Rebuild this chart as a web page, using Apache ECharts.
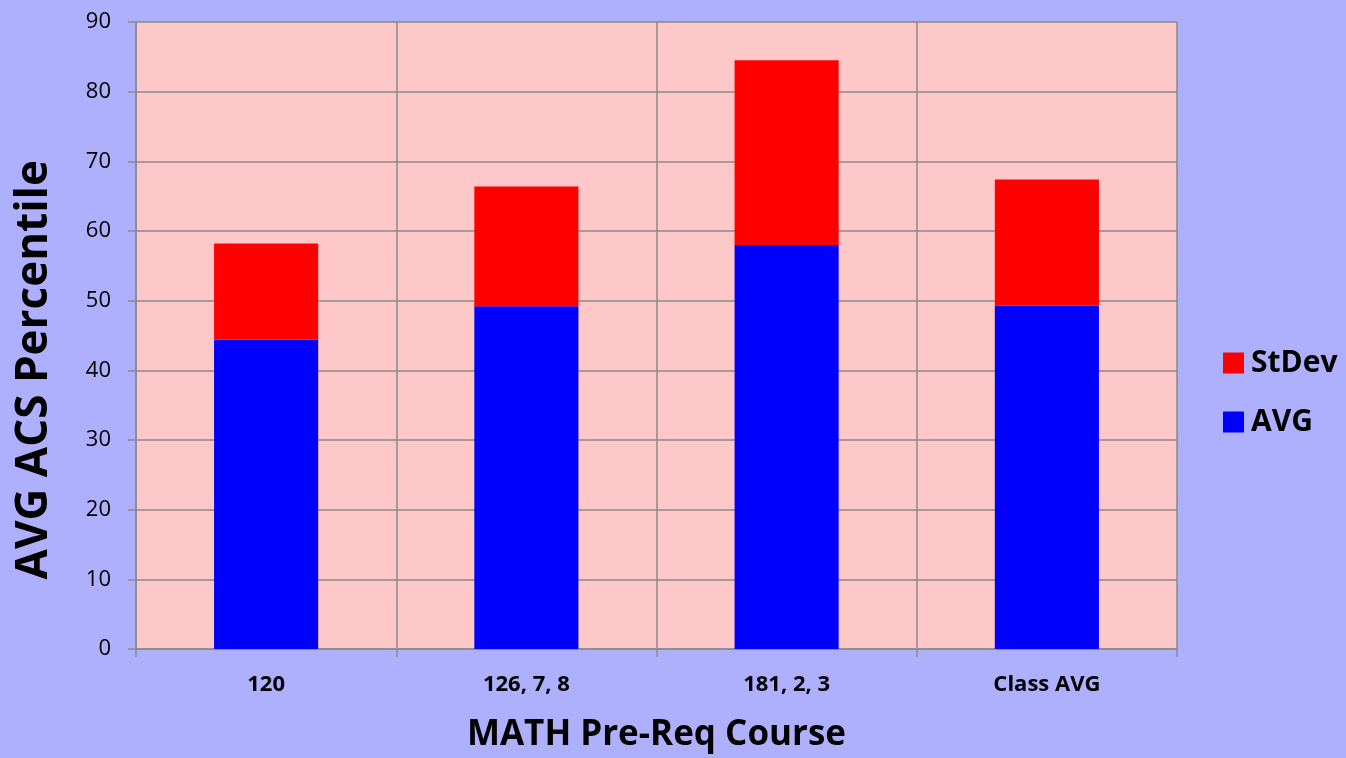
<!DOCTYPE html>
<html>
<head>
<meta charset="utf-8">
<script src="https://cdn.jsdelivr.net/npm/echarts@6/dist/echarts.min.js"></script>
<style>
html,body{margin:0;padding:0;background:#aeb0fe;}
#c{width:1346px;height:758px;}
</style>
</head>
<body>
<div id="c"></div>
<script>
var categories = ['120', '126, 7, 8', '181, 2, 3', 'Class AVG'];
var avgValues = [44.4, 49.2, 58.0, 49.3];
var stdevValues = [13.8, 17.2, 26.5, 18.1];
var yTicks = [0, 10, 20, 30, 40, 50, 60, 70, 80, 90];

var chart = echarts.init(document.getElementById('c'));
var gridColor = '#8a8a8a';
chart.setOption({
  backgroundColor: '#aeb0fe',
  animation: false,
  grid: {
    left: 136, right: 169, top: 22, bottom: 108,
    show: true, backgroundColor: '#ffc8c8', borderWidth: 0
  },
  legend: {
    orient: 'vertical',
    left: 1218, top: 343,
    itemWidth: 21, itemHeight: 21, itemGap: 29,
    icon: 'rect',
    data: ['StDev', 'AVG'],
    textStyle: { fontFamily: 'Open Sans', fontWeight: 'bold', fontSize: 30, color: '#000', padding: [0, 0, 0, 2] }
  },
  xAxis: {
    type: 'category',
    data: categories,
    name: 'MATH Pre-Req Course',
    nameLocation: 'middle',
    nameGap: 69,
    nameTextStyle: { fontFamily: 'Open Sans', fontWeight: 'bold', fontSize: 35, color: '#000' },
    axisLine: { lineStyle: { color: gridColor, width: 1.5 } },
    axisTick: { show: true, length: 8, lineStyle: { color: gridColor, width: 1.5 } },
    axisLabel: { margin: 25, fontFamily: 'Open Sans', fontWeight: 'bold', fontSize: 22, color: '#000' },
    splitLine: { show: true, lineStyle: { color: gridColor, width: 1.5 } }
  },
  yAxis: {
    type: 'value',
    min: 0, max: 90, interval: 10,
    axisLine: { show: true, lineStyle: { color: gridColor, width: 1.5 } },
    axisTick: { show: true, length: 8, lineStyle: { color: gridColor, width: 1.5 } },
    axisLabel: {
      margin: 25, fontFamily: 'Open Sans', fontSize: 22, color: '#000',
      formatter: function (v) { return yTicks.indexOf(v) >= 0 ? String(v) : ''; }
    },
    splitLine: { show: true, lineStyle: { color: gridColor, width: 1.5 } }
  },
  graphic: [{
    type: 'text',
    left: 12, top: 160,
    rotation: Math.PI / 2,
    style: {
      text: 'AVG ACS Percentile',
      fontFamily: 'Open Sans', fontWeight: 'bold', fontSize: 44, fill: '#000'
    }
  }],
  series: [
    {
      name: 'AVG', type: 'bar', stack: 's', data: avgValues,
      barWidth: '40%',
      itemStyle: { color: '#0000ff' }
    },
    {
      name: 'StDev', type: 'bar', stack: 's', data: stdevValues,
      barWidth: '40%',
      itemStyle: { color: '#ff0000' }
    }
  ]
});
</script>
</body>
</html>
